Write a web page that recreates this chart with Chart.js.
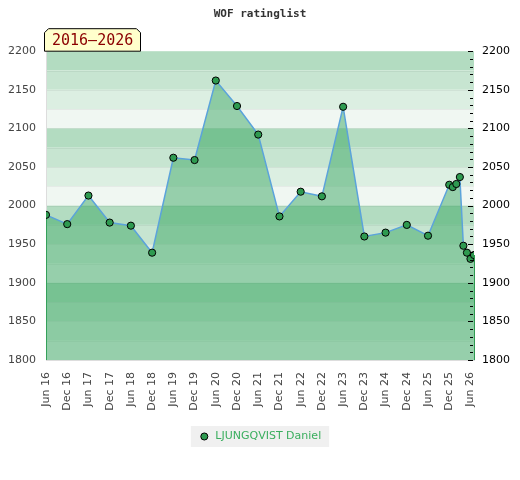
<!DOCTYPE html>
<html>
<head>
  <title>WOF ratinglist</title>
  <script src="https://cdn.jsdelivr.net/npm/chart.js"></script>
  <style>
    body { margin: 0; background: #fff; }
    #wrap { width: 520px; height: 480px; }
  </style>
</head>
<body>
  <div id="wrap"><canvas id="ratingChart" width="520" height="480"></canvas></div>

  <script>
    // rating list dates (year-month) and the player's rating on each list
    const listDates = ["2016-06", "2016-12", "2017-06", "2017-12", "2018-06", "2018-12",
      "2019-06", "2019-12", "2020-06", "2020-12", "2021-06", "2021-12", "2022-06", "2022-12",
      "2023-06", "2023-12", "2024-06", "2024-12", "2025-06", "2025-12", "2026-01", "2026-02",
      "2026-03", "2026-04", "2026-05", "2026-06", "2026-07"];
    const ratings = [1988, 1976, 2013, 1978, 1974, 1939, 2062, 2059, 2162, 2129, 2092, 1986,
      2018, 2012, 2128, 1960, 1965, 1975, 1961, 2027, 2024, 2028, 2037, 1948, 1939, 1931, 1936];
    const playerName = "LJUNGQVIST Daniel";
    const periodLabel = "2016–2026";
    const monthNames = ["Jan", "Feb", "Mar", "Apr", "May", "Jun", "Jul", "Aug", "Sep", "Oct", "Nov", "Dec"];

    const startYear = 2016, startMonth = 6;
    function monthIndex(s) {
      const [y, m] = s.split("-").map(Number);
      return (y - startYear) * 12 + (m - startMonth);
    }
    function monthLabel(i) {
      const m = (startMonth - 1 + i) % 12;
      const y = startYear + Math.floor((startMonth - 1 + i) / 12);
      return monthNames[m] + " " + String(y).slice(2);
    }

    const points = listDates.map((d, i) => ({ x: monthIndex(d), y: ratings[i] }));
    const bandColors = ["#b3dcc1", "#c7e5d1", "#dcefe2", "#f0f7f2"];

    // striped background + legend background
    const backdrop = {
      id: "backdrop",
      beforeDraw(chart) {
        const ctx = chart.ctx, a = chart.chartArea, y = chart.scales.y;
        ctx.save();
        for (let v = 2200; v > 1800; v -= 25) {
          const top = y.getPixelForValue(v), bot = y.getPixelForValue(v - 25);
          ctx.fillStyle = bandColors[((2200 - v) / 25) % 4];
          ctx.fillRect(a.left, top, a.right - a.left, bot - top);
        }
        ctx.strokeStyle = "rgba(0,0,0,0.05)";
        ctx.lineWidth = 1;
        for (let v = 2175; v > 1800; v -= 25) {
          const p = Math.round(y.getPixelForValue(v)) + 0.5;
          ctx.beginPath(); ctx.moveTo(a.left, p); ctx.lineTo(a.right, p); ctx.stroke();
        }
        const hb = chart.legend.legendHitBoxes[0];
        if (hb) {
          ctx.fillStyle = "#f0f0f0";
          ctx.fillRect(hb.left - 8, hb.top - 5, hb.width + 16, hb.height + 10);
        }
        ctx.restore();
      },
      beforeDatasetsDraw(chart) {
        // vertical edges of the filled area
        const ctx = chart.ctx, meta = chart.getDatasetMeta(0), a = chart.chartArea;
        const first = meta.data[0], last = meta.data[meta.data.length - 1];
        ctx.save();
        ctx.strokeStyle = "#2e9a50";
        ctx.lineWidth = 1;
        [first, last].forEach(pt => {
          const x = Math.round(pt.x) + 0.5;
          ctx.beginPath(); ctx.moveTo(x, pt.y); ctx.lineTo(x, a.bottom); ctx.stroke();
        });
        ctx.restore();
      },
      afterDraw(chart) {
        const ctx = chart.ctx, a = chart.chartArea, y2 = chart.scales.y2;
        ctx.save();
        // minor ticks on right axis
        ctx.strokeStyle = "#000";
        ctx.lineWidth = 1;
        for (let v = 1800; v <= 2200; v += 10) {
          const p = Math.round(y2.getPixelForValue(v)) + 0.5;
          const len = v % 50 === 0 ? 5 : 3;
          ctx.beginPath(); ctx.moveTo(a.right - len - 1, p); ctx.lineTo(a.right - 1, p); ctx.stroke();
        }
        // period tag
        const x0 = a.left - 1.5, x1 = a.left + 94.5, yb = a.top, yt = a.top - 22.5, c = 4;
        ctx.beginPath();
        ctx.moveTo(x0, yb);
        ctx.lineTo(x0, yt + c);
        ctx.lineTo(x0 + c, yt);
        ctx.lineTo(x1 - c, yt);
        ctx.lineTo(x1, yt + c);
        ctx.lineTo(x1, yb);
        ctx.closePath();
        ctx.fillStyle = "#ffffcc";
        ctx.fill();
        ctx.strokeStyle = "#000";
        ctx.stroke();
        ctx.fillStyle = "#8b0000";
        ctx.font = "15px 'DejaVu Sans Mono'";
        ctx.textBaseline = "middle";
        ctx.fillText(periodLabel, a.left + 6, a.top - 10);
        ctx.restore();
      }
    };

    new Chart(document.getElementById("ratingChart"), {
      type: "line",
      data: {
        datasets: [{
          label: playerName,
          data: points,
          borderColor: "#5ba3db",
          borderWidth: 1.5,
          backgroundColor: "rgba(60,168,100,0.5)",
          fill: "start",
          tension: 0,
          pointRadius: 3.6,
          pointBackgroundColor: "#2e9a50",
          pointBorderColor: "#000",
          pointBorderWidth: 1
        }]
      },
      options: {
        responsive: false,
        animation: false,
        devicePixelRatio: 1,
        layout: { padding: { left: 0, right: 0, top: 0, bottom: 28 } },
        plugins: {
          title: {
            display: true,
            text: "WOF ratinglist",
            color: "#333",
            font: { family: "'DejaVu Sans Mono'", size: 11, weight: "bold" },
            padding: { top: 8, bottom: 30 }
          },
          legend: {
            position: "bottom",
            labels: {
              usePointStyle: true,
              pointStyle: "circle",
              boxHeight: 5,
              color: "#3aae5e",
              font: { family: "'DejaVu Sans'", size: 11 },
              padding: 6
            }
          },
          tooltip: { enabled: false }
        },
        scales: {
          x: {
            type: "linear",
            min: 0,
            max: 121,
            afterBuildTicks(scale) {
              scale.ticks = [];
              for (let i = 0; i <= 120; i += 6) scale.ticks.push({ value: i });
            },
            afterFit(scale) { scale.height = 65; },
            grid: { display: false, drawTicks: false },
            border: { color: "#ddd" },
            ticks: {
              autoSkip: false,
              minRotation: 90,
              maxRotation: 90,
              padding: 12,
              color: "#444",
              font: { family: "'DejaVu Sans'", size: 11 },
              callback: v => monthLabel(v)
            }
          },
          y: {
            position: "left",
            min: 1800,
            max: 2200,
            afterFit(scale) { scale.width = 46; },
            grid: { display: false, drawTicks: false },
            border: { color: "#ddd" },
            ticks: {
              stepSize: 50,
              padding: 10,
              color: "#444",
              font: { family: "'DejaVu Sans'", size: 11 },
              callback: v => String(v)
            }
          },
          y2: {
            position: "right",
            min: 1800,
            max: 2200,
            afterFit(scale) { scale.width = 46; },
            grid: { display: false, drawTicks: false },
            border: { display: false },
            ticks: {
              stepSize: 50,
              padding: 8,
              color: "#000",
              font: { family: "'DejaVu Sans'", size: 11 },
              callback: v => String(v)
            }
          }
        }
      },
      plugins: [backdrop]
    });
  </script>
</body>
</html>
